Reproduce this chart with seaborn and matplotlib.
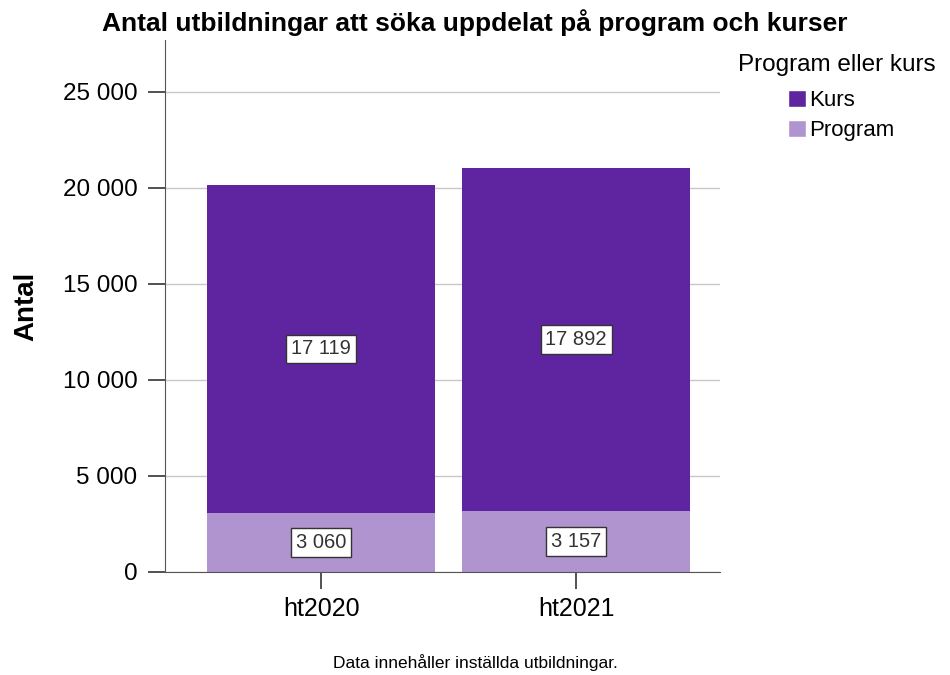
import pandas as pd
import matplotlib.pyplot as plt
import matplotlib.ticker as mticker
from matplotlib.patches import Patch
import seaborn as sns

# --- Dados ---
terminer = ["ht2020", "ht2021"]
kurs = [17119, 17892]
program = [3060, 3157]

farg_kurs = "#5f249f"
farg_program = "#b094cf"

df = pd.DataFrame({"Termin": terminer, "Kurs": kurs, "Program": program})
df["Totalt"] = df["Kurs"] + df["Program"]

sns.set_style("white")
plt.rcParams['font.family'] = ['Liberation Sans', 'DejaVu Sans']
plt.rcParams['text.color'] = 'black'
plt.rcParams['axes.labelcolor'] = 'black'
plt.rcParams['xtick.labelcolor'] = 'black'
plt.rcParams['ytick.labelcolor'] = 'black'

fig = plt.figure(figsize=(9.5, 6.75), dpi=100)
ax = fig.add_axes([0.174, 0.1526, 0.584, 0.788])

# Barras empilhadas: total (Kurs em cima) e depois Program por baixo
sns.barplot(data=df, x="Termin", y="Totalt", color=farg_kurs, width=0.894,
            saturation=1, linewidth=0, ax=ax, zorder=2)
sns.barplot(data=df, x="Termin", y="Program", color=farg_program, width=0.894,
            saturation=1, linewidth=0, ax=ax, zorder=2)

# Rótulos de valores
box = dict(boxstyle="square,pad=0.24", fc="white", ec="#333333", lw=1)
for i in range(len(df)):
    p = df["Program"][i]
    k = df["Kurs"][i]
    ax.text(i, p / 2, f"{p:,}".replace(",", " "), ha="center", va="center",
            fontsize=14.5, color="#333333", bbox=box, zorder=3)
    ax.text(i, p + k / 2, f"{k:,}".replace(",", " "), ha="center", va="center",
            fontsize=14.5, color="#333333", bbox=box, zorder=3)

ax.set_xlim(-0.612, 1.565)
ax.set_ylim(0, 27700)
ax.yaxis.set_major_locator(mticker.MultipleLocator(5000))
ax.yaxis.set_major_formatter(mticker.FuncFormatter(lambda v, _: f"{int(v):,}".replace(",", " ")))
ax.grid(axis="y", color="#c8c8c8", lw=1, zorder=0)
ax.set_axisbelow(True)

for s in ["top", "right"]:
    ax.spines[s].set_visible(False)
ax.spines["left"].set_color("#555555")
ax.spines["bottom"].set_color("#555555")
ax.tick_params(axis="y", direction="out", length=12, width=1.2, color="#333333",
               labelsize=17.5, pad=8, left=True)
ax.tick_params(axis="x", direction="out", length=12, width=1.2, color="#333333",
               labelsize=18, pad=6, bottom=True)

ax.set_xlabel("")
ax.set_ylabel("Antal", fontsize=20, fontweight="bold", labelpad=17)
fig.text(0.5, 0.967, "Antal utbildningar att söka uppdelat på program och kurser",
         ha="center", va="center", fontsize=19, fontweight="bold")

# Legenda
fig.text(738 / 950, 1 - 65 / 675, "Program eller kurs", ha="left", va="center",
         fontsize=17.5)
handles = [Patch(facecolor=farg_kurs, label="Kurs"),
           Patch(facecolor=farg_program, label="Program")]
fig.legend(handles=handles, loc="upper left", bbox_to_anchor=(788 / 950, 1 - 90 / 675),
           frameon=False, fontsize=16, handlelength=0.8, handleheight=0.8,
           handletextpad=0.15, labelspacing=0.4, borderpad=0, borderaxespad=0)

fig.text(0.5, 1 - 663 / 675, "Data innehåller inställda utbildningar.", ha="center",
         va="center", fontsize=12.5)

plt.savefig("out.png", dpi=100)
